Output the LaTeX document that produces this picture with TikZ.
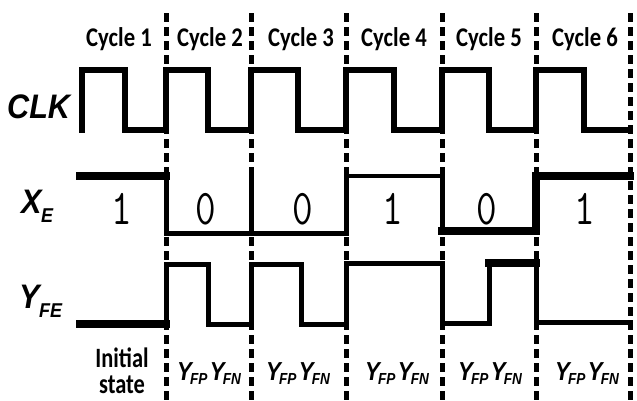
\documentclass[tikz,border=0pt]{standalone}
\usepackage{fontspec}
\usepackage{graphicx}
\setmainfont{Carlito}
\newfontfamily\lsans{Liberation Sans}
\newcommand\bigsig[2]{{\lsans\bfseries\itshape\fontsize{34}{36}\selectfont\scalebox{0.9}[1]{#1\kern-0.5pt\raisebox{-9pt}{\fontsize{20}{22}\selectfont #2}}}}
\newcommand\ysub[1]{{\lsans\bfseries\itshape\fontsize{26}{28}\selectfont\scalebox{0.85}[1]{Y\kern-2pt\raisebox{-4pt}{\fontsize{16}{17}\selectfont #1}}}}
\begin{document}
\begin{tikzpicture}[x=1pt,y=-1pt,
  wave/.style={line width=5pt, line cap=rect, line join=miter},
  clkwave/.style={line width=6.5pt, line cap=rect, line join=miter},
  fatwave/.style={line width=8pt, line cap=rect, line join=miter},
  thinwave/.style={line width=4pt, line cap=rect, line join=miter},
  bound/.style={line width=5pt, dash pattern=on 9pt off 5pt, line cap=butt},
  cyc/.style={font=\bfseries\fontsize{27}{29}\selectfont, anchor=base, inner sep=0pt},
  digit/.style={font=\ttfamily\fontsize{50}{52}\selectfont, anchor=center, inner sep=0pt},
  init/.style={font=\bfseries\fontsize{28}{30}\selectfont, anchor=base, inner sep=0pt},
  ylab/.style={anchor=base, inner sep=0pt},
  siglab/.style={anchor=base west, inner sep=0pt}
]
\useasboundingbox (0,0) rectangle (637,400);
\fill[white] (0,0) rectangle (637,400);

% cycle boundaries
\foreach \x/\n in {166/b1,251/b2,346/b3,442/b4,536/b5,630/b6}{
  \coordinate (\n top) at (\x,13);
  \coordinate (\n bot) at (\x,400);
  \draw[bound] (\n top) -- (\n bot);
}

% cycle labels
\node[cyc] (cy1) at (119,46) {\scalebox{0.84}[1]{Cycle 1}};
\node[cyc] (cy2) at (210,46) {\scalebox{0.84}[1]{Cycle 2}};
\node[cyc] (cy3) at (301,46) {\scalebox{0.84}[1]{Cycle 3}};
\node[cyc] (cy4) at (394,46) {\scalebox{0.84}[1]{Cycle 4}};
\node[cyc] (cy5) at (489,46) {\scalebox{0.84}[1]{Cycle 5}};
\node[cyc] (cy6) at (585,46) {\scalebox{0.84}[1]{Cycle 6}};

% signal labels
\node[siglab] (lclk) at (7,118) {\bigsig{CLK}{}};
\node[siglab] (lxe) at (21,213) {\bigsig{X}{E}};
\node[siglab] (lyfe) at (19,308) {\bigsig{Y}{FE}};

% CLK
\draw[clkwave] (82,130) -- (82,70) -- (125,70) -- (125,130) -- (166,130) -- (166,70) -- (208,70) -- (208,130)
  -- (251,130) -- (251,70) -- (298,70) -- (298,130) -- (346,130) -- (346,70) -- (394,70) -- (394,130)
  -- (442,130) -- (442,70) -- (489,70) -- (489,130) -- (536,130) -- (536,70) -- (584,70) -- (584,130) -- (630,130);

% X_E
\draw[fatwave] (80,176) -- (166,176);
\draw[wave] (166,176) -- (166,233) -- (346,233) -- (346,175.5);
\draw[wave] (251,170) -- (251,233);
\draw[thinwave] (346,175.5) -- (442,175.5);
\draw[wave] (442,175.5) -- (442,231);
\draw[fatwave] (442,231) -- (536,231) -- (536,175.5) -- (630,175.5);

\node[digit] (d1) at (122,209) {\scalebox{0.8}[1]{1}};
\node[digit] (d2) at (206,209) {\scalebox{0.8}[1]{0}};
\node[digit] (d3) at (303,209) {\scalebox{0.8}[1]{0}};
\node[digit] (d4) at (393,209) {\scalebox{0.8}[1]{1}};
\node[digit] (d5) at (487,209) {\scalebox{0.8}[1]{0}};
\node[digit] (d6) at (585,209) {\scalebox{0.8}[1]{1}};

% Y_FE
\draw[fatwave] (80,324) -- (166,324);
\draw[wave] (166,324) -- (166,264) -- (208,264) -- (208,324) -- (251,324) -- (251,264) -- (301,264) -- (301,324)
  -- (346,324) -- (346,263) -- (442,263) -- (442,323) -- (489,323) -- (489,263);
\draw[fatwave] (489,263) -- (536,263);
\draw[wave] (536,263) -- (536,322) -- (630,322);

% bottom labels
\node[init] (in1) at (122,367) {\scalebox{0.8}[1]{Initial}};
\node[init] (in2) at (122,393) {\scalebox{0.8}[1]{state}};
\node[ylab] (y2) at (209,380) {\ysub{FP} \ysub{FN}};
\node[ylab] (y3) at (298,380) {\ysub{FP} \ysub{FN}};
\node[ylab] (y4) at (397,380) {\ysub{FP} \ysub{FN}};
\node[ylab] (y5) at (490,380) {\ysub{FP} \ysub{FN}};
\node[ylab] (y6) at (587,380) {\ysub{FP} \ysub{FN}};
\end{tikzpicture}
\end{document}
